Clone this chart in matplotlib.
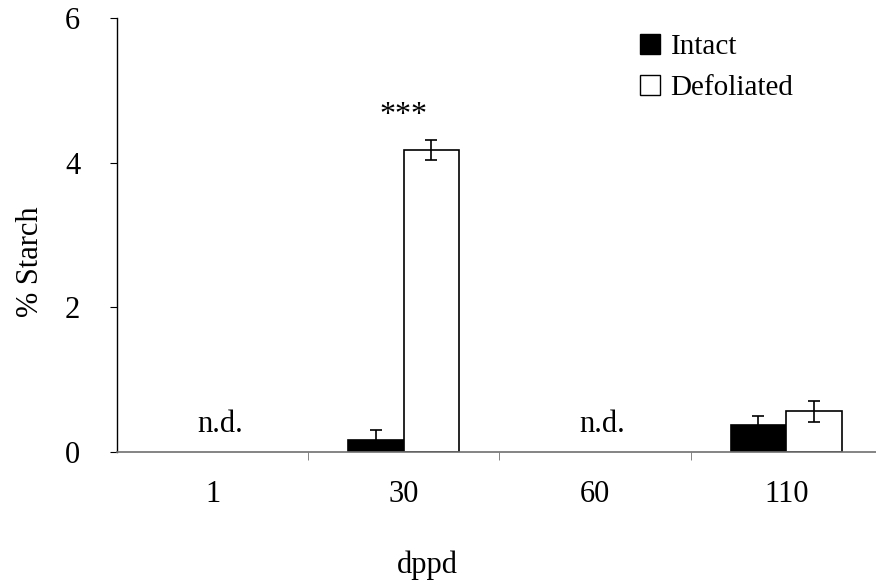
import numpy as np
import matplotlib.pyplot as plt
from matplotlib.patches import Patch

plt.rcParams['font.family'] = ['Liberation Serif', 'DejaVu Serif']

# data
categories = ['1', '30', '60', '110']
intact = [np.nan, 0.16, np.nan, 0.38]
intact_err = [np.nan, 0.15, np.nan, 0.12]
defoliated = [np.nan, 4.17, np.nan, 0.56]
defoliated_err = [np.nan, 0.14, np.nan, 0.15]
nd_labels = ['n.d.', '', 'n.d.', '']
signif = ['', '***', '', '']

fig = plt.figure(figsize=(8.76, 5.83), dpi=100)
ax = fig.add_axes([117/876, 1-452/583, 1-117/876, (452-18)/583])

x = np.arange(len(categories))
w = 0.29
ax.bar(x - w/2, intact, w, color='black', edgecolor='black', linewidth=1.2)
ax.bar(x + w/2, defoliated, w, color='white', edgecolor='black', linewidth=1.2)
ax.errorbar(x - w/2, intact, yerr=intact_err, fmt='none', ecolor='black',
            elinewidth=1.2, capsize=4, capthick=1.2)
ax.errorbar(x + w/2, defoliated, yerr=defoliated_err, fmt='none', ecolor='black',
            elinewidth=1.2, capsize=4, capthick=1.2)

for i, s in enumerate(nd_labels):
    if s:
        ax.text(x[i] + 0.04, 0.27, s, ha='center', va='baseline', fontsize=22)
for i, s in enumerate(signif):
    if s:
        ax.text(x[i], 4.55, s, ha='center', va='baseline', fontsize=23)

ax.set_xlim(-0.5, 3.47)
ax.set_ylim(0, 6)
ax.set_yticks([0, 2, 4, 6])
ax.set_xticks(x)
ax.set_xticklabels(categories)
ax.set_xticks([0.5, 1.5, 2.5], minor=True)
ax.tick_params(axis='x', which='major', length=0, pad=20, labelsize=22)
ax.tick_params(axis='x', which='minor', length=6, direction='out', color='#707070')
ax.tick_params(axis='y', length=5, direction='out', labelsize=22, pad=27)
for lab in ax.get_yticklabels():
    lab.set_horizontalalignment('center')
ax.spines['top'].set_visible(False)
ax.spines['right'].set_visible(False)
ax.spines['bottom'].set_color('#707070')
ax.spines['bottom'].set_linewidth(1.2)
ax.spines['left'].set_linewidth(1.0)

fig.text(427/876, 1-565/583, 'dppd', ha='center', va='center', fontsize=22)
fig.text(30/876, 1-262/583, '% Starch', ha='center', va='center',
         rotation=90, fontsize=22)

handles = [Patch(facecolor='black', edgecolor='black', label='Intact'),
           Patch(facecolor='white', edgecolor='black', label='Defoliated')]
ax.legend(handles=handles, loc='upper left', bbox_to_anchor=(0.668, 1.0),
          frameon=False, fontsize=21, handlelength=0.7, handleheight=0.7,
          handletextpad=0.35, labelspacing=0.5, borderaxespad=0.15)

fig.savefig('out.png', dpi=100)
